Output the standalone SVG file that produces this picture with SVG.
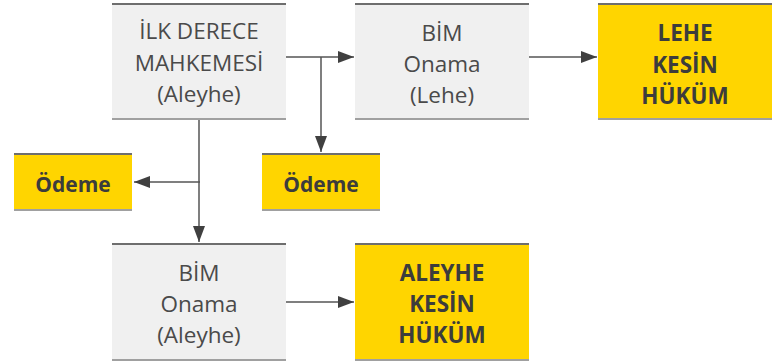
<svg xmlns="http://www.w3.org/2000/svg" width="778" height="362" viewBox="0 0 778 362">
<style>
.g{fill:#f0f0f0}
.y{fill:#ffd500}
.tb{stroke:#6e6e6e;stroke-width:2}
.bb{stroke:#a0a0a0;stroke-width:2}
.t{font-family:"Open Sans","Noto Sans",sans-serif;font-size:22.5px;fill:#4a4a4a;text-anchor:middle}
.b{font-family:"Open Sans","Noto Sans",sans-serif;font-size:22.5px;font-weight:bold;fill:#3c3c3c;text-anchor:middle}
.o{font-size:21px}
.c{stroke:#555;stroke-width:1.5;fill:none}
</style>
<defs>
<marker id="ah" markerWidth="16" markerHeight="12" refX="16" refY="6" orient="auto" markerUnits="userSpaceOnUse">
<path d="M0,0 L16,6 L0,12 Z" fill="#404040"/>
</marker>
</defs>
<g id="connectors">
<path class="c" d="M286,57 H354" marker-end="url(#ah)"/>
<path class="c" d="M321,57 V152" marker-end="url(#ah)"/>
<path class="c" d="M529,57 H597" marker-end="url(#ah)"/>
<path class="c" d="M199,119 V242" marker-end="url(#ah)"/>
<path class="c" d="M200,182 H134" marker-end="url(#ah)"/>
<path class="c" d="M286,302 H354" marker-end="url(#ah)"/>
</g>
<g id="ilk">
<rect class="g" x="112" y="3" width="174" height="116"/>
<line class="tb" x1="112" y1="4" x2="286" y2="4"/>
<line class="bb" x1="112" y1="119" x2="286" y2="119"/>
<text class="t" x="199" y="39">İLK DERECE</text>
<text class="t" x="199" y="71">MAHKEMESİ</text>
<text class="t" x="199" y="102">(Aleyhe)</text>
</g>
<g id="bimLehe">
<rect class="g" x="355" y="3" width="174" height="116"/>
<line class="tb" x1="355" y1="4" x2="529" y2="4"/>
<line class="bb" x1="355" y1="119" x2="529" y2="119"/>
<text class="t" x="442" y="41">BİM</text>
<text class="t" x="442" y="72">Onama</text>
<text class="t" x="442" y="103">(Lehe)</text>
</g>
<g id="leheKesin">
<rect class="y" x="598" y="3" width="174" height="116"/>
<line class="tb" x1="598" y1="4" x2="772" y2="4"/>
<line class="bb" x1="598" y1="119" x2="772" y2="119"/>
<text class="b" x="685" y="41">LEHE</text>
<text class="b" x="685" y="73">KESİN</text>
<text class="b" x="685" y="104">HÜKÜM</text>
</g>
<g id="odemeLeft">
<rect class="y" x="14" y="153" width="118" height="57"/>
<line class="tb" x1="14" y1="154" x2="132" y2="154"/>
<line class="bb" x1="14" y1="210" x2="132" y2="210"/>
<text class="b o" x="73" y="192">Ödeme</text>
</g>
<g id="odemeRight">
<rect class="y" x="262" y="153" width="118" height="57"/>
<line class="tb" x1="262" y1="154" x2="380" y2="154"/>
<line class="bb" x1="262" y1="210" x2="380" y2="210"/>
<text class="b o" x="321" y="192">Ödeme</text>
</g>
<g id="bimAleyhe">
<rect class="g" x="112" y="243" width="174" height="117"/>
<line class="tb" x1="112" y1="244" x2="286" y2="244"/>
<line class="bb" x1="112" y1="360" x2="286" y2="360"/>
<text class="t" x="199" y="281">BİM</text>
<text class="t" x="199" y="312">Onama</text>
<text class="t" x="199" y="343">(Aleyhe)</text>
</g>
<g id="aleyheKesin">
<rect class="y" x="355" y="243" width="174" height="117"/>
<line class="tb" x1="355" y1="244" x2="529" y2="244"/>
<line class="bb" x1="355" y1="360" x2="529" y2="360"/>
<text class="b" x="442" y="281">ALEYHE</text>
<text class="b" x="442" y="312">KESİN</text>
<text class="b" x="442" y="343">HÜKÜM</text>
</g>
</svg>
